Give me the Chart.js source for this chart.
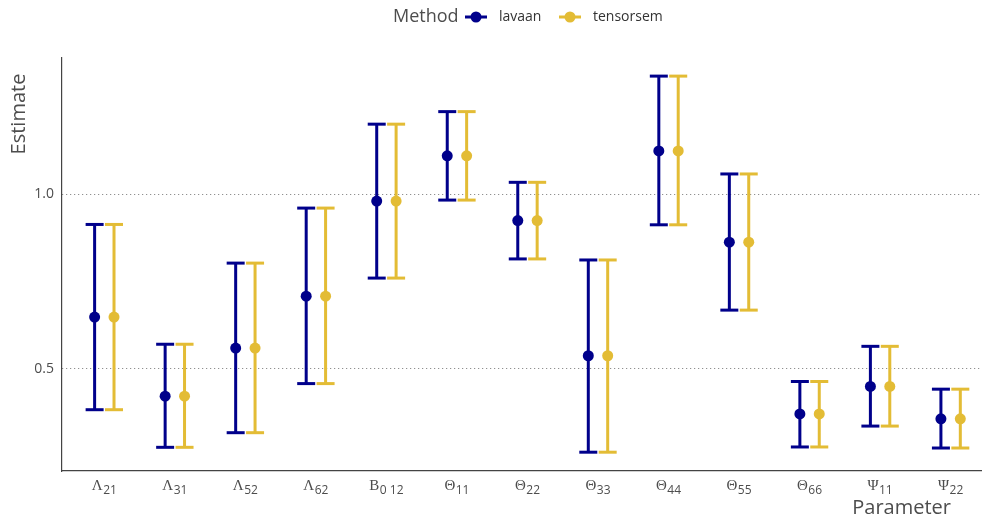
<!DOCTYPE html>
<html>
<head>
<meta charset="utf-8">
<script src="https://cdn.jsdelivr.net/npm/chart.js@4"></script>
<style>
  html, body { margin: 0; padding: 0; background: #ffffff; overflow: hidden; }
  #wrap { width: 982px; height: 517px; }
</style>
</head>
<body>
<div id="wrap"><canvas id="c" width="982" height="517"></canvas></div>
<script>
// ---- data ----
const paramSymbols    = ["Λ", "Λ", "Λ", "Λ", "B", "Θ", "Θ", "Θ", "Θ", "Θ", "Θ", "Ψ", "Ψ"];
const paramSubscripts = ["21", "31", "52", "62", "0 12", "11", "22", "33", "44", "55", "66", "11", "22"];

const lavaanEst   = [0.648, 0.421, 0.559, 0.708, 0.981, 1.111, 0.925, 0.537, 1.125, 0.863, 0.370, 0.449, 0.356];
const lavaanLower = [0.382, 0.274, 0.316, 0.457, 0.760, 0.984, 0.815, 0.260, 0.913, 0.668, 0.275, 0.335, 0.272];
const lavaanUpper = [0.914, 0.570, 0.803, 0.961, 1.202, 1.238, 1.035, 0.812, 1.340, 1.059, 0.463, 0.564, 0.441];

const tensorEst   = [0.648, 0.421, 0.559, 0.708, 0.981, 1.111, 0.925, 0.537, 1.125, 0.863, 0.370, 0.449, 0.356];
const tensorLower = [0.382, 0.274, 0.316, 0.457, 0.760, 0.984, 0.815, 0.260, 0.913, 0.668, 0.275, 0.335, 0.272];
const tensorUpper = [0.914, 0.570, 0.803, 0.961, 1.202, 1.238, 1.035, 0.812, 1.340, 1.059, 0.463, 0.564, 0.441];

const yTickValues = [0.5, 1.0];
const yTickLabels = ["0.5", "1.0"];

const methodTitle = "Method";
const methodNames = ["lavaan", "tensorsem"];
const xTitle = "Parameter";
const yTitle = "Estimate";

// ---- styling ----
const COLORS = ["#00008B", "#E3BC35"];
const DODGE = 0.1375;
const SANS = "'Open Sans', 'Noto Sans', sans-serif";
const SERIF = "'Liberation Serif', 'DejaVu Serif', serif";

function rangeLine(lo, hi, off) {
  const out = [];
  for (let i = 0; i < lo.length; i++) {
    out.push({x: i + off, y: lo[i]});
    out.push({x: i + off, y: hi[i]});
    out.push({x: i + off, y: null});
  }
  return out;
}
function caps(lo, hi, off) {
  const out = [];
  for (let i = 0; i < lo.length; i++) {
    out.push({x: i + off, y: lo[i]});
    out.push({x: i + off, y: hi[i]});
  }
  return out;
}
function pts(est, off) {
  return est.map((v, i) => ({x: i + off, y: v}));
}

const series = [
  {name: methodNames[0], est: lavaanEst, lo: lavaanLower, hi: lavaanUpper, off: -DODGE, color: COLORS[0]},
  {name: methodNames[1], est: tensorEst, lo: tensorLower, hi: tensorUpper, off: DODGE, color: COLORS[1]}
];

const datasets = [];
series.forEach(s => {
  datasets.push({
    label: s.name, data: pts(s.est, s.off), showLine: false,
    pointRadius: 5.5, pointHoverRadius: 5.5, pointBackgroundColor: s.color,
    pointBorderColor: s.color, pointBorderWidth: 0, borderColor: s.color, order: 0
  });
});
series.forEach(s => {
  datasets.push({
    label: s.name + " caps", data: caps(s.lo, s.hi, s.off), showLine: false,
    pointStyle: "line", pointRadius: 9, pointHoverRadius: 9, pointBorderWidth: 3,
    pointBorderColor: s.color, borderColor: s.color, order: 1
  });
  datasets.push({
    label: s.name + " range", data: rangeLine(s.lo, s.hi, s.off), showLine: true,
    spanGaps: false, borderWidth: 3, borderColor: s.color, borderCapStyle: "butt",
    pointRadius: 0, pointHoverRadius: 0, order: 2
  });
});

const textPlugin = {
  id: "textPlugin",
  afterDraw(chart) {
    const ctx = chart.ctx;
    const xs = chart.scales.x;
    ctx.save();
    // x tick labels: symbol + subscript
    for (let i = 0; i < paramSymbols.length; i++) {
      const cx = xs.getPixelForValue(i);
      ctx.font = "15px " + SERIF;
      const w1 = ctx.measureText(paramSymbols[i]).width;
      ctx.font = "12px " + SANS;
      const w2 = ctx.measureText(paramSubscripts[i]).width;
      const left = cx - (w1 + w2 + 0.5) / 2;
      ctx.fillStyle = "#4d4d4d";
      ctx.textAlign = "left";
      ctx.textBaseline = "alphabetic";
      ctx.font = "15px " + SERIF;
      ctx.fillText(paramSymbols[i], left, 490);
      ctx.font = "12px " + SANS;
      ctx.fillText(paramSubscripts[i], left + w1 + 0.5, 494);
    }
    // axis titles
    ctx.fillStyle = "#4d4d4d";
    ctx.font = "20px " + SANS;
    ctx.textAlign = "right";
    ctx.textBaseline = "alphabetic";
    ctx.fillText(xTitle, 951, 514);
    ctx.save();
    ctx.translate(25, 114);
    ctx.rotate(-Math.PI / 2);
    ctx.textAlign = "center";
    ctx.fillText(yTitle, 0, 0);
    ctx.restore();
    // legend
    const ly = 17;
    ctx.textBaseline = "middle";
    ctx.textAlign = "left";
    ctx.font = "18px " + SANS;
    ctx.fillStyle = "#4d4d4d";
    ctx.fillText(methodTitle, 393, ly);
    const items = [
      {x: 465, tx: 499},
      {x: 559, tx: 593}
    ];
    series.forEach((s, k) => {
      const it = items[k];
      ctx.strokeStyle = s.color;
      ctx.lineWidth = 3;
      ctx.beginPath();
      ctx.moveTo(it.x, ly);
      ctx.lineTo(it.x + 22, ly);
      ctx.stroke();
      ctx.fillStyle = s.color;
      ctx.beginPath();
      ctx.arc(it.x + 11, ly, 5.5, 0, Math.PI * 2);
      ctx.fill();
      ctx.fillStyle = "#333333";
      ctx.font = "14px " + SANS;
      ctx.fillText(s.name, it.tx, ly);
    });
    ctx.restore();
  }
};

new Chart(document.getElementById("c"), {
  type: "line",
  data: { datasets },
  options: {
    responsive: false,
    animation: false,
    layout: { autoPadding: false, padding: { top: 58, right: 0, bottom: 0, left: 0 } },
    plugins: { legend: { display: false }, tooltip: { enabled: false } },
    scales: {
      x: {
        type: "linear",
        min: -0.6,
        max: 12.445,
        grid: { display: false, drawTicks: false },
        border: { display: true, color: "#444444", width: 1.2 },
        ticks: { display: false },
        afterFit(scale) { scale.height = 46; }
      },
      y: {
        type: "linear",
        min: 0.206,
        max: 1.392,
        afterBuildTicks(scale) { scale.ticks = yTickValues.map(v => ({value: v})); },
        ticks: {
          callback: (v) => { const k = yTickValues.indexOf(v); return k >= 0 ? yTickLabels[k] : ""; },
          color: "#4d4d4d",
          font: { size: 14, family: SANS },
          padding: 8
        },
        grid: { display: true, drawTicks: false, color: "#777777", lineWidth: 1 },
        border: { display: true, color: "#444444", width: 1.2, dash: [1, 3] },
        afterFit(scale) { scale.width = 62; }
      }
    }
  },
  plugins: [textPlugin]
});
</script>
</body>
</html>
